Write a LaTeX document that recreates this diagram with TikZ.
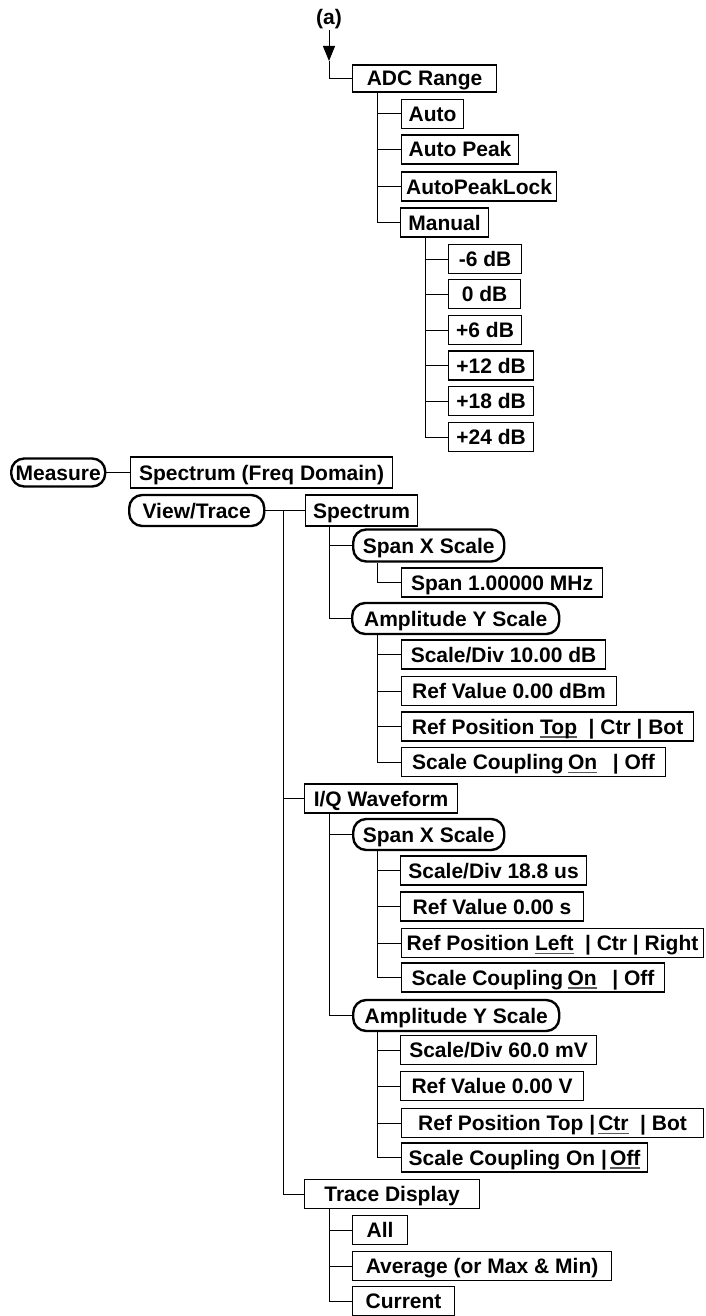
\documentclass[tikz,border=0pt]{standalone}
\usepackage{fontspec}
\setmainfont{Liberation Sans}
\usetikzlibrary{arrows.meta}
\newcommand\myul[1]{\setbox0\hbox{#1}\rlap{\color{black!65}\rule[-3.6pt]{\wd0}{1.4pt}}\box0}
\begin{document}
\begin{tikzpicture}[x=1pt,y=-1pt,
  lbl/.style={font=\bfseries\fontsize{21pt}{24pt}\selectfont, inner sep=0pt, text height=15pt, text depth=0pt},
  box/.style={lbl, draw, line width=1.1pt, minimum height=29pt, anchor=west},
  pill/.style={lbl, draw, line width=2.4pt, rounded corners=13pt, minimum height=31pt, anchor=west},
  link/.style={line width=1pt}]
\useasboundingbox (0,0) rectangle (705,1316);

% ---- top part (a)
\node[lbl] (alabel) at (329,17) {(a)};
\coordinate (atip) at (329,61);
\node[box, minimum width=144pt, minimum height=27pt] (adc) at (352,78.5) {ADC Range};
\node[box, minimum width=62pt]  (auto)     at (401,114)   {Auto};
\node[box, minimum width=117pt] (autopeak) at (401,149.5) {Auto Peak};
\node[box, minimum width=155pt] (apl)      at (401,186.5) {AutoPeakLock};
\node[box, minimum width=88pt]  (manual)   at (400,222.5) {Manual};
\node[box, minimum width=73pt]  (m6)  at (448,259)   {-6 dB};
\node[box, minimum width=72pt]  (m0)  at (448,294)   {0 dB};
\node[box, minimum width=73pt]  (p6)  at (448,330)   {+6 dB};
\node[box, minimum width=85pt]  (p12) at (448,365.5) {+12 dB};
\node[box, minimum width=85pt]  (p18) at (448,401)   {+18 dB};
\node[box, minimum width=85pt]  (p24) at (448,437)   {+24 dB};

\draw[link,-{Triangle[width=12pt,length=15pt]}] (329,30) -- (atip);
\draw[link] (atip) |- (adc.west);
\foreach \c in {auto,autopeak,apl,manual}
  \draw[link] ([xshift=25pt]adc.south west) |- (\c.west);
\foreach \c in {m6,m0,p6,p12,p18,p24}
  \draw[link] ([xshift=25pt]manual.south west) |- (\c.west);

% ---- main tree
\node[pill, minimum width=94pt, minimum height=28pt] (measure) at (10,472.5) {Measure};
\node[box, minimum width=262pt, minimum height=31pt] (sfd) at (130,472.5) {Spectrum (Freq Domain)};
\draw[link] (measure.east) -- (sfd.west);

\node[pill, minimum width=135pt] (view) at (128,510.5) {View/Trace};
\node[box, minimum width=112pt, minimum height=31pt] (spectrum) at (305,510.5) {Spectrum};
\draw[link] (view.east) -- (spectrum.west);
\coordinate (vt) at (283,510.5);

\node[pill, minimum width=151pt, minimum height=32pt] (spx1) at (352,545.5) {Span X Scale};
\node[box, minimum width=201pt] (span1) at (401,582.5) {Span 1.00000 MHz};
\node[pill, minimum width=207pt] (amp1) at (351,618.5) {Amplitude Y Scale};
\node[box, minimum width=204pt] (sd1) at (401,654.5) {Scale/Div 10.00 dB};
\node[box, minimum width=215pt] (rv1) at (401,691)   {Ref Value 0.00 dBm};
\node[box, minimum width=292pt] (rp1) at (401,726.5) {Ref Position \myul{Top}\hspace{0.55em}| Ctr | Bot};
\node[box, minimum width=264pt] (sc1) at (401,762)   {Scale Coupling\hspace{0.2em}\myul{On}\hspace{0.75em}| Off};

\node[box, minimum width=153pt] (iq) at (304,798.5) {I/Q Waveform};
\node[pill, minimum width=151pt] (spx2) at (352,834.5) {Span X Scale};
\node[box, minimum width=186pt] (sd2) at (400,870.5) {Scale/Div 18.8 us};
\node[box, minimum width=183pt] (rv2) at (400,906.5) {Ref Value 0.00 s};
\node[box, minimum width=302pt] (rp2) at (401,943)   {Ref Position \myul{Left}\hspace{0.55em}| Ctr | Right};
\node[box, minimum width=263pt] (sc2) at (401,977.5) {Scale Coupling\hspace{0.2em}\myul{On}\hspace{0.75em}| Off};
\node[pill, minimum width=206pt] (amp2) at (352,1015.5) {Amplitude Y Scale};
\node[box, minimum width=196pt] (sd3) at (400,1050)  {Scale/Div 60.0 mV};
\node[box, minimum width=183pt] (rv3) at (400,1086)  {Ref Value 0.00 V};
\node[box, minimum width=302pt] (rp3) at (401,1123)  {Ref Position Top |\hspace{0.15em}\myul{Ctr}\hspace{0.55em}| Bot};
\node[box, minimum width=246pt] (sc3) at (401,1157.5) {Scale Coupling On |\hspace{0.15em}\myul{Off}};

\node[box, minimum width=175pt] (trace) at (304,1194) {Trace Display};
\node[box, minimum width=55pt]  (all) at (352,1230) {All};
\node[box, minimum width=259pt] (avg) at (352,1266) {Average (or Max \& Min)};
\node[box, minimum width=102pt] (cur) at (352,1301) {Current};

% connectors
\foreach \c in {iq,trace}
  \draw[link] (vt) |- (\c.west);
\foreach \c in {spx1,amp1}
  \draw[link] ([xshift=24pt]spectrum.south west) |- (\c.west);
\draw[link] ([xshift=25pt]spx1.south west) |- (span1.west);
\foreach \c in {sd1,rv1,rp1,sc1}
  \draw[link] ([xshift=26pt]amp1.south west) |- (\c.west);
\foreach \c in {spx2,amp2}
  \draw[link] ([xshift=25pt]iq.south west) |- (\c.west);
\foreach \c in {sd2,rv2,rp2,sc2}
  \draw[link] ([xshift=25pt]spx2.south west) |- (\c.west);
\foreach \c in {sd3,rv3,rp3,sc3}
  \draw[link] ([xshift=25pt]amp2.south west) |- (\c.west);
\foreach \c in {all,avg,cur}
  \draw[link] ([xshift=25pt]trace.south west) |- (\c.west);
\end{tikzpicture}
\end{document}
